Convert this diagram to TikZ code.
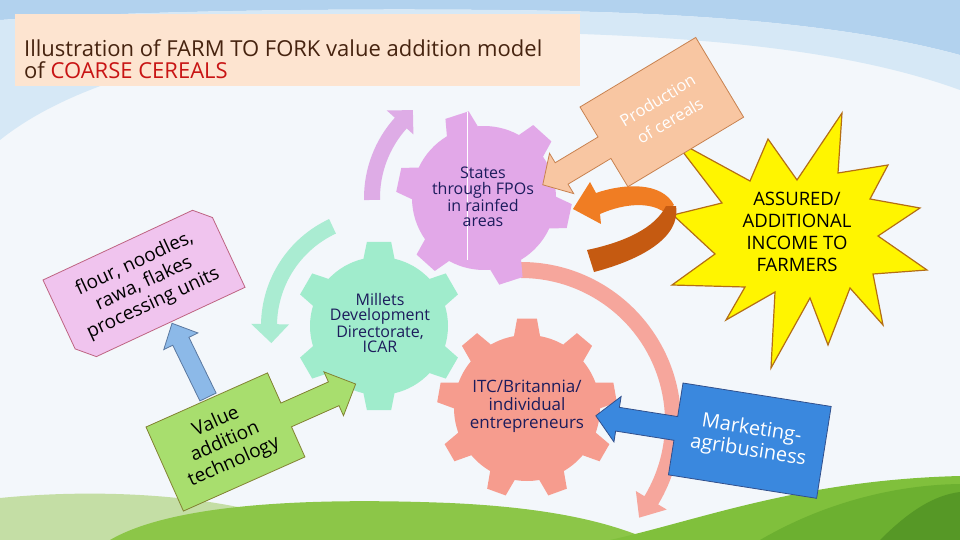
\documentclass[tikz,border=0pt]{standalone}
\usepackage{fontspec}
\setmainfont{Open Sans}
\usepackage{xcolor}
\usepackage{tikz}
\usetikzlibrary{calc}
\definecolor{skybg}{RGB}{243,247,251}
\definecolor{skyA}{RGB}{178,210,238}
\definecolor{skyB}{RGB}{214,232,246}
\definecolor{titlebg}{RGB}{253,228,208}
\definecolor{titleink}{RGB}{70,35,15}
\definecolor{cerealred}{RGB}{200,20,20}
\definecolor{prodfill}{RGB}{248,198,162}
\definecolor{prodline}{RGB}{200,130,80}
\definecolor{gearpink}{RGB}{226,168,232}
\definecolor{arcpink}{RGB}{222,172,230}
\definecolor{gearmint}{RGB}{160,236,204}
\definecolor{arcmint}{RGB}{170,236,210}
\definecolor{gearsalmon}{RGB}{246,156,142}
\definecolor{arcsalmon}{RGB}{246,166,156}
\definecolor{gearink}{RGB}{28,28,92}
\definecolor{starfill}{RGB}{255,245,0}
\definecolor{starline}{RGB}{180,110,20}
\definecolor{orangeA}{RGB}{240,125,35}
\definecolor{orangeB}{RGB}{197,90,17}
\definecolor{flourfill}{RGB}{240,196,238}
\definecolor{flourline}{RGB}{190,100,130}
\definecolor{valuefill}{RGB}{168,222,110}
\definecolor{valueline}{RGB}{130,130,50}
\definecolor{upblue}{RGB}{140,185,232}
\definecolor{upblueline}{RGB}{90,120,160}
\definecolor{mktfill}{RGB}{58,136,222}
\definecolor{mktline}{RGB}{50,80,140}
\definecolor{hillpale}{RGB}{196,222,165}
\definecolor{hillmain}{RGB}{140,198,72}
\definecolor{hillright}{RGB}{128,192,60}
\definecolor{hillmid}{RGB}{108,176,48}
\definecolor{hilldark}{RGB}{86,152,38}

\begin{document}
\begin{tikzpicture}[x=1pt, y=-1pt,
      txt/.style={align=center, inner sep=0pt},
      geartxt/.style={txt, text=gearink, font=\fontsize{16}{15.5}\selectfont},
      boxtxt/.style={txt, font=\fontsize{19}{22}\selectfont},
      edge/.style={line width=0.8pt}]
    \useasboundingbox (0,0) rectangle (960,540);
    \fill[skybg] (0,0) rectangle (960,540);
    \fill[skyA] (0,0) -- (960,0) -- (960,55) .. controls (850,25) and (700,12) .. (500,10)
          .. controls (300,8) and (120,12) .. (0,20) -- cycle;
    \fill[skyB] (0,20) .. controls (120,12) and (300,8) .. (500,10) .. controls (700,12) and (850,25) .. (960,55)
          -- (960,90) .. controls (850,50) and (700,35) .. (500,32) .. controls (300,30) and (100,60) .. (0,140) -- cycle;
    \fill[hillpale] (0,498) .. controls (80,490) and (180,492) .. (260,512) -- (300,540) -- (0,540) -- cycle;
    \fill[hillmain] (110,540) .. controls (170,505) and (300,497) .. (450,503) .. controls (560,508) and (615,525) .. (650,540) -- cycle;
    \fill[hillright] (610,540) .. controls (700,520) and (800,480) .. (960,476) -- (960,540) -- cycle;
    \fill[hillmid] (760,540) .. controls (820,505) and (890,485) .. (960,484) -- (960,540) -- cycle;
    \fill[hilldark] (880,540) .. controls (910,510) and (935,495) .. (960,492) -- (960,540) -- cycle;

    \node[fill=titlebg, minimum width=565, minimum height=72, inner sep=0pt] (titlebox) at (297.5,50) {};
    \node[anchor=north west, inner sep=0pt, align=left, text=titleink, font=\fontsize{22}{22}\selectfont] (title) at (24,39)
         {Illustration of FARM TO FORK value addition model\\of \textcolor{cerealred}{COARSE CEREALS}};

    \begin{scope}[shift={(484,198)}]
      \fill[arcpink] (179:120) arc[start angle=179, end angle=222, radius=120] -- (222:131) -- (231:113)
            -- (222:95) -- (222:104) arc[start angle=222, end angle=179, radius=104] -- cycle;
    \end{scope}
    \begin{scope}[shift={(379,326)}]
      \fill[arcmint] (245:118) arc[start angle=245, end angle=181, radius=118] -- (181:128) -- (171:109)
            -- (181:90) -- (181:102) arc[start angle=181, end angle=245, radius=102] -- cycle;
    \end{scope}
    \begin{scope}[shift={(521,422)}]
      \fill[arcsalmon] (270:160) arc[start angle=270, end angle=391, radius=160] -- (391:170) -- (399:152)
            -- (391:134) -- (391:144) arc[start angle=391, end angle=270, radius=144] -- cycle;
    \end{scope}

    \begin{scope}[shift={(484,198)}]
      \fill[gearpink] (-121:72) \foreach \t in {-108,-48,...,192} {
            -- ({\t-13}:72) -- ({\t-8}:88) -- ({\t+8}:88) -- ({\t+13}:72)
            arc[start angle={\t+13}, end angle={\t+47}, radius=72]} -- cycle;
    \end{scope}
    \draw[white, line width=0.7pt] (467,112) -- (467,260);
    \begin{scope}[shift={(379,326)}]
      \fill[gearmint] (-103:69) \foreach \t in {-90,-30,...,210} {
            -- ({\t-13}:69) -- ({\t-8.2}:85) -- ({\t+8.2}:85) -- ({\t+13}:69)
            arc[start angle={\t+13}, end angle={\t+47}, radius=69]} -- cycle;
    \end{scope}
    \begin{scope}[shift={(527,408)}]
      \fill[gearsalmon] (-100.3:73) \foreach \t in {-90,-50,...,230} {
            -- ({\t-10.3}:73) -- ({\t-6.3}:90) -- ({\t+6.3}:90) -- ({\t+10.3}:73)
            arc[start angle={\t+10.3}, end angle={\t+29.7}, radius=73]} -- cycle;
    \end{scope}
    \node[geartxt] (states) at (483,197) {States\\through FPOs\\in rainfed\\areas};
    \node[geartxt] (mdd) at (380,323) {Millets\\Development\\Directorate,\\ICAR};
    \node[geartxt, font=\fontsize{17}{18}\selectfont] (itc) at (527,406) {ITC/Britannia/\\individual\\entrepreneurs};

    \begin{scope}[shift={(43,280)}, rotate=25]
      \filldraw[fill=flourfill, draw=flourline, edge] (0,0) -- (165,0) -- (180,15) -- (180,92) -- (16,92) -- (0,76) -- cycle;
      \node[boxtxt, rotate=25] (flour) at (90,46) {flour, noodles,\\rawa, flakes\\processing units};
    \end{scope}
    \begin{scope}[shift={(208,397)}, rotate=116]
      \filldraw[fill=upblue, draw=upblueline, edge] (0,-9) -- (62,-9) -- (62,-19) -- (82,0) -- (62,19) -- (62,9) -- (0,9) -- cycle;
    \end{scope}
    \begin{scope}[shift={(146,427)}, rotate=24]
      \filldraw[fill=valuefill, draw=valueline, edge] (0,0) -- (133,0) -- (133,33) -- (185,33) -- (185,22) -- (209,46)
            -- (185,70) -- (185,59) -- (133,59) -- (133,92) -- (0,92) -- cycle;
      \node[boxtxt, rotate=24] (value) at (66,46) {Value\\addition\\technology};
    \end{scope}

    \filldraw[fill=starfill, draw=starline, line width=1.2pt] (673,139) -- (750,181) -- (768,139) -- (797,180) -- (842,113)
          -- (838,173) -- (888,165) -- (870,199) -- (920,208) -- (878,236) -- (927,270) -- (873,274) -- (883,325)
          -- (850,288) -- (828,345) -- (810,298) -- (771,368) -- (775,292) -- (726,320) -- (745,287) -- (672,285)
          -- (715,254) -- (673,215) -- (722,203) -- cycle;
    \node[txt, font=\fontsize{18.5}{22}\selectfont, text=black] (income) at (797,232) {ASSURED/\\ADDITIONAL\\INCOME TO\\FARMERS};

    \begin{scope}[shift={(580,107)}, rotate=31]
      \filldraw[fill=prodfill, draw=prodline, edge] (0,0) -- (135,0) -- (135,93) -- (0,93) -- (0,60) -- (-50,60) -- (-50,71)
            -- (-72,47.5) -- (-50,24) -- (-50,35) -- (0,35) -- cycle;
      \node[boxtxt, text=white, font=\fontsize{16.5}{24}\selectfont, rotate=31] (prod) at (70,46) {Production\\of cereals};
    \end{scope}

    \fill[orangeA] (573,209) -- (590,182) -- (596,193) .. controls (625,183) and (662,182) .. (674,205)
          -- (664,212) .. controls (650,202) and (625,203) .. (600,214) -- (601,224) -- cycle;
    \fill[orangeB] (587,250) .. controls (625,242) and (655,228) .. (666,206) -- (676,206)
          .. controls (681,238) and (640,260) .. (594,272) -- cycle;

    \begin{scope}[shift={(683,383)}, rotate=-9]
      \filldraw[fill=mktfill, draw=mktline, edge] (0,0) -- (150,0) -- (150,93) -- (0,93) -- (0,58) -- (-59,58) -- (-59,69)
            -- (-81,46) -- (-59,23) -- (-59,34) -- (0,34) -- cycle;
      \node[boxtxt, text=white, font=\fontsize{20}{22}\selectfont, rotate=-9] (market) at (75,46) {Marketing-\\agribusiness};
    \end{scope}
  \end{tikzpicture}
\end{document}
